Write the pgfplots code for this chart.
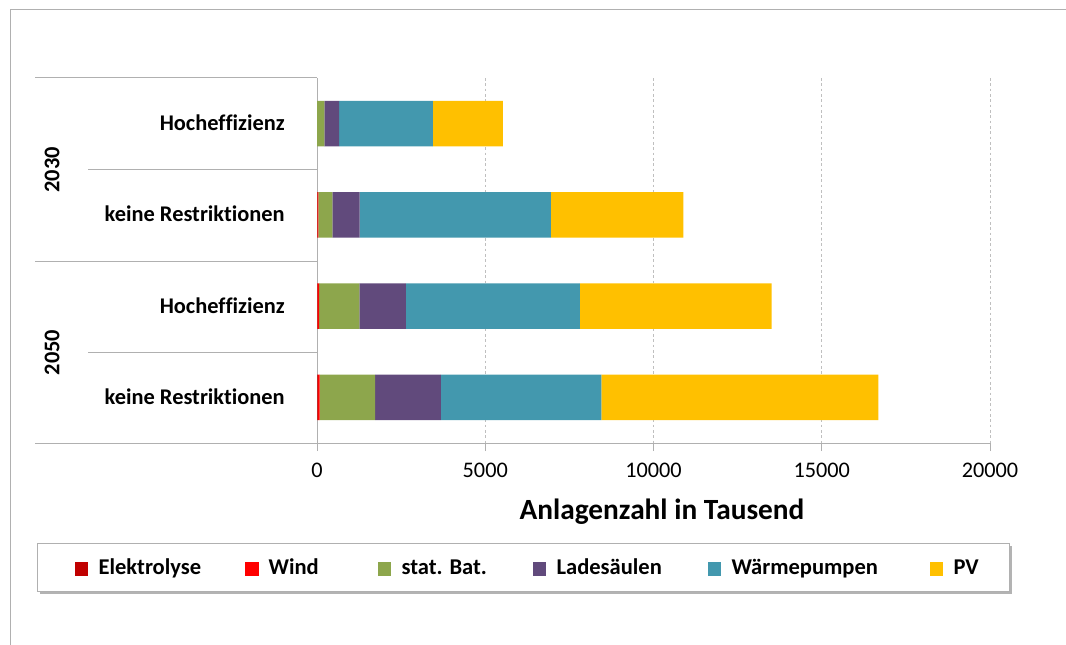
\documentclass[border=0pt]{standalone}
\usepackage{fontspec}
\setmainfont{Carlito}[Ligatures=NoCommon]
\usepackage{pgfplots}
\usepackage{pgfplotstable}
\pgfplotsset{compat=1.18}
\usetikzlibrary{shadows}
\definecolor{cElek}{HTML}{C00000}
\definecolor{cWind}{HTML}{FF0000}
\definecolor{cBat}{HTML}{8DA64C}
\definecolor{cLade}{HTML}{614A7C}
\definecolor{cWP}{HTML}{4398AE}
\definecolor{cPV}{HTML}{FFC000}
\definecolor{lgray}{HTML}{BFBFBF}
\definecolor{bgray}{HTML}{B0B0B0}

\pgfplotstableread{
y elek wind bat lade wp pv
0 0 0 220 440 2780 2080
1 10 30 420 810 5680 3940
2 10 50 1200 1380 5170 5700
3 20 60 1650 1950 4770 8230
}\data

\begin{document}
\begin{tikzpicture}
\begin{scope}[x=0.75pt,y=-0.75pt]
\useasboundingbox (0,0) rectangle (1066,645);
\draw[bgray, line width=0.75pt] (10,645) -- (10,10) -- (1066,10);
\draw[bgray, line width=0.75pt, fill=white, drop shadow={shadow xshift=2pt, shadow yshift=-2pt, opacity=0.6}] (37,543) rectangle (1009,591);
\end{scope}
\begin{axis}[
  at={(237.75pt,-332.25pt)}, anchor=south west,
  scale only axis, width=504.75pt, height=273.75pt,
  xbar stacked, bar width=0.5,
  xmin=0, xmax=20000, ymin=-0.5, ymax=3.5, y dir=reverse,
  axis x line*=bottom, axis y line*=left,
  axis line style={-, bgray, line width=0.75pt},
  ytick=\empty,
  xtick={0,5000,10000,15000,20000},
  scaled x ticks=false,
  tick align=outside, major tick length=6pt,
  tick style={bgray, line width=0.75pt},
  xmajorgrids, grid style={lgray, line width=0.75pt, dash pattern=on 2pt off 2pt},
  /pgf/number format/assume math mode=true,
  /pgf/number format/1000 sep={},
  xticklabel style={font=\fontsize{16.7}{18}\selectfont, text=black, anchor=base, yshift=-20pt},
  xlabel={Anlagenzahl in Tausend},
  xlabel style={font=\fontsize{22}{26}\selectfont\bfseries, at={(axis description cs:0.5126,-0.2104)}, anchor=base},
  legend columns=6,
  legend style={at={(axis description cs:-0.3596,-0.3415)}, anchor=west, draw=none, fill=none,
     inner sep=0pt, outer sep=0pt, column sep=0pt, row sep=0pt,
     font=\fontsize{16.9}{18}\selectfont\bfseries,
     cells={anchor=base west, inner sep=0pt, outer sep=0pt}},
  legend image code/.code={\fill[#1,draw=none] (0pt,-0.75pt) rectangle (10.125pt,9.4pt);},
]
\addplot[fill=cElek, draw=none] table[x=elek,y=y]{\data};
\addlegendentry{\makebox[113.4pt][l]{\hspace*{5.6pt}Elektrolyse}}
\addplot[fill=cWind, draw=none] table[x=wind,y=y]{\data};
\addlegendentry{\makebox[85.6pt][l]{\hspace*{5.6pt}Wind}}
\addplot[fill=cBat, draw=none] table[x=bat,y=y]{\data};
\addlegendentry{\makebox[102.1pt][l]{\hspace*{5.6pt}stat. Bat.}}
\addplot[fill=cLade, draw=none] table[x=lade,y=y]{\data};
\addlegendentry{\makebox[117.1pt][l]{\hspace*{5.6pt}Ladesäulen}}
\addplot[fill=cWP, draw=none] table[x=wp,y=y]{\data};
\addlegendentry{\makebox[152.4pt][l]{\hspace*{5.6pt}Wärmepumpen}}
\addplot[fill=cPV, draw=none] table[x=pv,y=y]{\data};
\addlegendentry{\hspace*{5.6pt}PV}
\end{axis}
\begin{scope}[x=0.75pt,y=-0.75pt]
\draw[bgray, line width=0.75pt] (35,78) -- (317,78);
\draw[bgray, line width=0.75pt] (35,261) -- (317,261);
\draw[bgray, line width=0.75pt] (35,443) -- (317,443);
\draw[bgray, line width=0.75pt] (88,170) -- (317,170);
\draw[bgray, line width=0.75pt] (88,352) -- (317,352);
\begin{scope}[every node/.style={font=\fontsize{16.8}{18}\selectfont\bfseries, inner sep=0pt}]
\node[anchor=base east] at (285,131) {Hocheffizienz};
\node[anchor=base east] at (285,222) {keine Restriktionen};
\node[anchor=base east] at (285,313) {Hocheffizienz};
\node[anchor=base east] at (285,404.5) {keine Restriktionen};
\node[rotate=90, anchor=center] at (52,170) {2030};
\node[rotate=90, anchor=center] at (52,352.5) {2050};
\end{scope}
\end{scope}
\end{tikzpicture}
\end{document}
